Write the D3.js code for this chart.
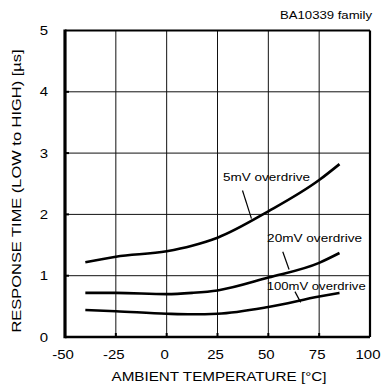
<!DOCTYPE html>
<html><head><meta charset="utf-8">
<script src="https://cdn.jsdelivr.net/npm/d3@7"></script>
<style>html,body{margin:0;padding:0;background:#fff;}svg{display:block;font-family:"Liberation Sans",Arial,sans-serif;}</style>
</head><body>
<svg id="c" width="382" height="388"></svg>
<script>
const temps = [-40, -25, 0, 12.5, 25, 50, 75, 85];
const s5mV = [1.22, 1.31, 1.40, 1.49, 1.62, 2.05, 2.56, 2.82];
const s20mV = [0.72, 0.72, 0.70, 0.72, 0.76, 0.97, 1.21, 1.37];
const s100mV = [0.44, 0.42, 0.38, 0.37, 0.38, 0.49, 0.66, 0.72];
const xTicks = [-50, -25, 0, 25, 50, 75, 100];
const yTicks = [0, 1, 2, 3, 4, 5];
const labels = [
  {text: "5mV overdrive", t: 27.7, v: 2.54, lt0: 37.3, lv0: 2.39, lt1: 41.7, lv1: 1.93, w: 87},
  {text: "20mV overdrive", t: 49.4, v: 1.55, lt0: 57.1, lv0: 1.39, lt1: 60.2, lv1: 1.10, w: 95},
  {text: "100mV overdrive", t: 49.2, v: 0.765, lt0: 63.1, lv0: 0.74, lt1: 65.9, lv1: 0.565, w: 99}
];
const series = [s5mV, s20mV, s100mV];

const svg = d3.select("#c");
const L = 65, R = 370, T = 30.5, B = 337;
const x = d3.scaleLinear().domain([-50, 100]).range([L, R]);
const y = d3.scaleLinear().domain([0, 5]).range([B, T]);

// grid
const g = svg.append("g");
g.selectAll("line.vx").data(xTicks.slice(1, -1)).join("line")
  .attr("x1", d => x(d)).attr("x2", d => x(d)).attr("y1", T).attr("y2", B)
  .attr("stroke", "#111").attr("stroke-width", 1);
g.selectAll("line.hy").data(yTicks.slice(1, -1)).join("line")
  .attr("x1", L).attr("x2", R).attr("y1", d => y(d)).attr("y2", d => y(d))
  .attr("stroke", "#111").attr("stroke-width", 1);
// inner ticks
g.selectAll("line.tx").data(xTicks.slice(1, -1)).join("line")
  .attr("x1", d => x(d)).attr("x2", d => x(d)).attr("y1", B - 4).attr("y2", B)
  .attr("stroke", "#000").attr("stroke-width", 2);
g.selectAll("line.ty").data(yTicks.slice(1, -1)).join("line")
  .attr("x1", L).attr("x2", L + 4).attr("y1", d => y(d)).attr("y2", d => y(d))
  .attr("stroke", "#000").attr("stroke-width", 2);

// frame
svg.append("line").attr("x1", L).attr("x2", R).attr("y1", T).attr("y2", T).attr("stroke", "#000").attr("stroke-width", 2.2);
svg.append("line").attr("x1", R).attr("x2", R).attr("y1", T).attr("y2", B).attr("stroke", "#000").attr("stroke-width", 2.2);
svg.append("line").attr("x1", L).attr("x2", R).attr("y1", B).attr("y2", B).attr("stroke", "#000").attr("stroke-width", 2.4);
svg.append("line").attr("x1", L).attr("x2", L).attr("y1", T - 1.1).attr("y2", B + 1.2).attr("stroke", "#000").attr("stroke-width", 3.2);

// curves
const line = d3.line().x((d, i) => x(temps[i])).y(d => y(d)).curve(d3.curveMonotoneX);
svg.selectAll("path.s").data(series).join("path")
  .attr("d", d => line(d)).attr("fill", "none").attr("stroke", "#000").attr("stroke-width", 2.6);

function stretch(sel, k) {
  sel.each(function() {
    const len = this.getComputedTextLength();
    d3.select(this).attr("textLength", len * k).attr("lengthAdjust", "spacingAndGlyphs");
  });
}

// tick labels
const xl = svg.selectAll("text.xl").data(xTicks).join("text")
  .attr("x", d => x(d) - 2).attr("y", 359).attr("text-anchor", "middle")
  .attr("font-size", 13).attr("fill", "#000").text(d => d);
stretch(xl, 1.15);
const yl = svg.selectAll("text.yl").data(yTicks).join("text")
  .attr("x", 48).attr("y", d => y(d) + 4.5).attr("text-anchor", "end")
  .attr("font-size", 13).attr("fill", "#000").text(d => d);
stretch(yl, 1.15);

// titles
svg.append("text").attr("x", 219).attr("y", 381).attr("text-anchor", "middle")
  .attr("font-size", 13.5).attr("textLength", 215).attr("lengthAdjust", "spacingAndGlyphs")
  .text("AMBIENT TEMPERATURE [°C]");
svg.append("text").attr("transform", "translate(21,191) rotate(-90)").attr("text-anchor", "middle")
  .attr("font-size", 13.5).attr("textLength", 283).attr("lengthAdjust", "spacingAndGlyphs")
  .text("RESPONSE TIME (LOW to HIGH) [µs]");
svg.append("text").attr("x", 372).attr("y", 19).attr("text-anchor", "end")
  .attr("font-size", 11.5).attr("textLength", 92).attr("lengthAdjust", "spacingAndGlyphs")
  .text("BA10339 family");

// annotations
const an = svg.selectAll("g.an").data(labels).join("g");
an.append("text").attr("x", d => x(d.t)).attr("y", d => y(d.v))
  .attr("font-size", 11).attr("textLength", d => d.w).attr("lengthAdjust", "spacingAndGlyphs")
  .text(d => d.text);
an.append("line").attr("x1", d => x(d.lt0)).attr("y1", d => y(d.lv0))
  .attr("x2", d => x(d.lt1)).attr("y2", d => y(d.lv1))
  .attr("stroke", "#000").attr("stroke-width", 1.2);
</script>
</body></html>
